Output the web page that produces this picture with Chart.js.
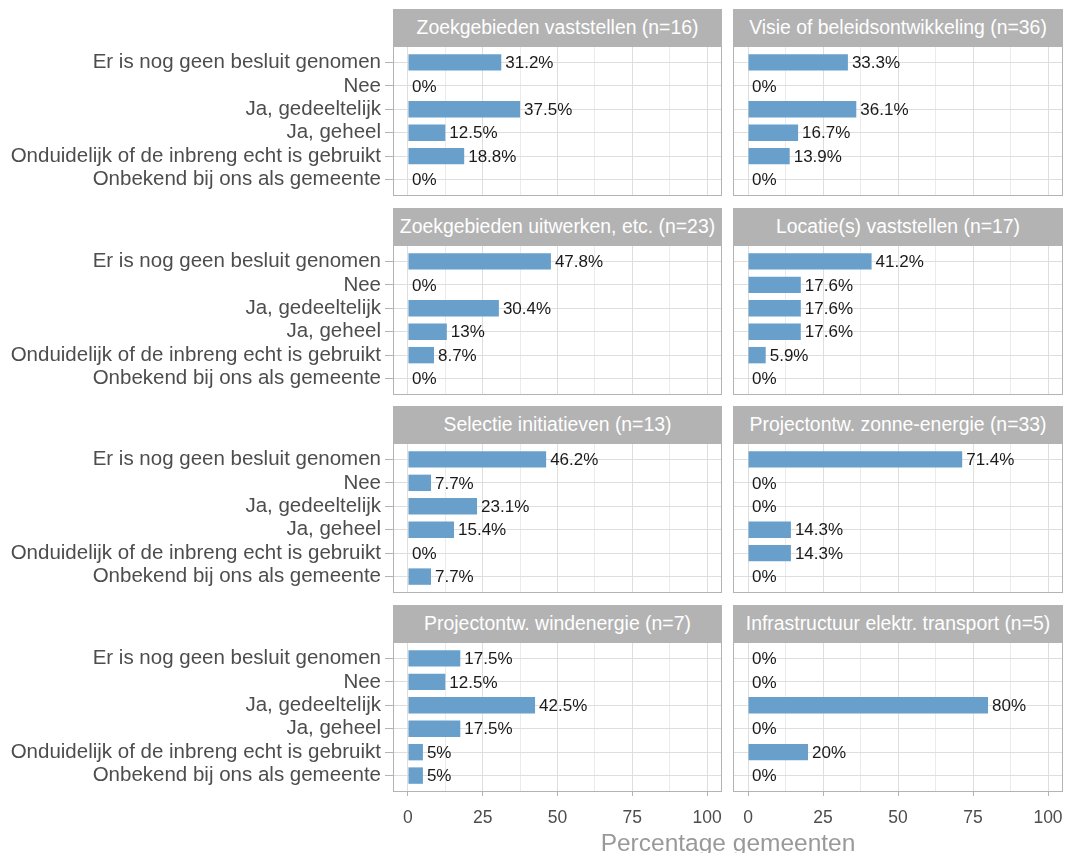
<!DOCTYPE html>
<html>
<head>
<meta charset="utf-8">
<title>Percentage gemeenten</title>
<script src="https://cdn.jsdelivr.net/npm/chart.js@4.4.1/dist/chart.umd.min.js"></script>
<style>
  body { margin: 0; background: #fff; width: 1070px; height: 853px; position: relative; overflow: hidden;
         font-family: "Liberation Sans", Arial, sans-serif; }
  canvas, .strip, .xtitle { position: absolute; }
  .strip { background: #b3b3b3; color: #fff; font-size: 19.4px; text-align: center; height: 37px; line-height: 37px; white-space: nowrap; }
  .xtitle { color: #999; font-size: 24.5px; line-height: 28px; text-align: center; }
</style>
</head>
<body>
<script>
// answer categories (top to bottom)
const categories = [
  'Er is nog geen besluit genomen',
  'Nee',
  'Ja, gedeeltelijk',
  'Ja, geheel',
  'Onduidelijk of de inbreng echt is gebruikt',
  'Onbekend bij ons als gemeente'
];

// facet titles
const panelTitles = [
  'Zoekgebieden vaststellen (n=16)',
  'Visie of beleidsontwikkeling (n=36)',
  'Zoekgebieden uitwerken, etc. (n=23)',
  'Locatie(s) vaststellen (n=17)',
  'Selectie initiatieven (n=13)',
  'Projectontw. zonne-energie (n=33)',
  'Projectontw. windenergie (n=7)',
  'Infrastructuur elektr. transport (n=5)'
];

// percentages per facet
const zoekgebiedenVaststellen = [31.2, 0, 37.5, 12.5, 18.8, 0];
const visieBeleid = [33.3, 0, 36.1, 16.7, 13.9, 0];
const zoekgebiedenUitwerken = [47.8, 0, 30.4, 13, 8.7, 0];
const locatieVaststellen = [41.2, 17.6, 17.6, 17.6, 5.9, 0];
const selectieInitiatieven = [46.2, 7.7, 23.1, 15.4, 0, 7.7];
const zonneEnergie = [71.4, 0, 0, 14.3, 14.3, 0];
const windEnergie = [17.5, 12.5, 42.5, 17.5, 5, 5];
const infraTransport = [0, 0, 80, 0, 20, 0];

const panelValues = [zoekgebiedenVaststellen, visieBeleid, zoekgebiedenUitwerken, locatieVaststellen,
  selectieInitiatieven, zonneEnergie, windEnergie, infraTransport];

// x axis: grid every 12.5, labels every 25
const xGrid = [0, 12.5, 25, 37.5, 50, 62.5, 75, 87.5, 100];
const xLabels = [0, 25, 50, 75, 100];

Chart.defaults.font.family = '"Liberation Sans", Arial, sans-serif';

// category axis with ggplot-like 0.6 expansion instead of 0.5
class PaddedCategory extends Chart.CategoryScale {
  configure() {
    super.configure();
    this._startValue -= 0.1;
    this._valueRange += 0.2;
  }
}
PaddedCategory.id = 'paddedCategory';
PaddedCategory.defaults = {};
Chart.register(PaddedCategory);

const panelPlugin = {
  id: 'panelPlugin',
  afterDatasetsDraw(chart) {
    const ctx = chart.ctx;
    const a = chart.chartArea;
    const meta = chart.getDatasetMeta(0);
    const vals = chart.data.datasets[0].data;
    ctx.save();
    ctx.font = '17px "Liberation Sans", Arial, sans-serif';
    ctx.fillStyle = '#1a1a1a';
    ctx.textAlign = 'left';
    ctx.textBaseline = 'middle';
    meta.data.forEach((bar, i) => {
      ctx.fillText(vals[i] + '%', bar.x + 4, bar.y + 1);
    });
    ctx.strokeStyle = '#b3b3b3';
    ctx.lineWidth = 1;
    ctx.strokeRect(a.left + 0.5, a.top + 0.5, a.width - 1, a.height - 1);
    ctx.restore();
  }
};

const columns = [
  { canvasLeft: 0, canvasWidth: 722, axisWidth: 393, stripLeft: 393, stripWidth: 329 },
  { canvasLeft: 720, canvasWidth: 343, axisWidth: 13, stripLeft: 733, stripWidth: 330 }
];
const panelHeight = 150;
const stripHeight = 37;
const xAxisHeight = 45;

panelValues.forEach((values, p) => {
  const row = Math.floor(p / 2);
  const col = columns[p % 2];
  const isLeft = p % 2 === 0;
  const isBottom = row === 3;
  const top = Math.round(46 + 198.7 * row);

  const strip = document.createElement('div');
  strip.className = 'strip';
  strip.style.left = col.stripLeft + 'px';
  strip.style.top = (top - stripHeight) + 'px';
  strip.style.width = col.stripWidth + 'px';
  strip.textContent = panelTitles[p];
  document.body.appendChild(strip);

  const canvas = document.createElement('canvas');
  const h = panelHeight + (isBottom ? xAxisHeight : 0);
  canvas.width = col.canvasWidth;
  canvas.height = h;
  canvas.style.left = col.canvasLeft + 'px';
  canvas.style.top = top + 'px';
  document.body.appendChild(canvas);

  new Chart(canvas, {
    type: 'bar',
    data: {
      labels: categories,
      datasets: [{
        data: values,
        backgroundColor: '#699fcb',
        borderWidth: 0,
        barPercentage: 0.7,
        categoryPercentage: 1
      }]
    },
    options: {
      indexAxis: 'y',
      responsive: false,
      animation: false,
      events: [],
      layout: { padding: 0 },
      plugins: { legend: { display: false }, tooltip: { enabled: false } },
      scales: {
        x: {
          type: 'linear',
          min: -5,
          max: 105,
          afterBuildTicks: (scale) => { scale.ticks = xGrid.map(v => ({ value: v })); },
          afterFit: (scale) => {
            scale.height = isBottom ? xAxisHeight : 0;
            scale.paddingLeft = 0;
            scale.paddingRight = 0;
          },
          border: { display: false },
          grid: {
            color: (c) => (c.tick && c.tick.value % 25 === 0) ? '#dedede' : '#ebebeb',
            lineWidth: 1,
            drawTicks: isBottom,
            tickLength: 4,
            tickColor: (c) => (c.tick && c.tick.value % 25 === 0) ? '#b3b3b3' : 'rgba(0,0,0,0)'
          },
          ticks: {
            display: isBottom,
            autoSkip: false,
            maxRotation: 0,
            padding: 12,
            color: '#4d4d4d',
            font: { size: 17.5 },
            callback: (v) => xLabels.includes(v) ? String(v) : ''
          }
        },
        y: {
          type: 'paddedCategory',
          offset: true,
          afterFit: (scale) => {
            scale.width = col.axisWidth;
            scale.paddingTop = 0;
            scale.paddingBottom = 0;
          },
          border: { display: false },
          grid: {
            offset: false,
            color: '#dedede',
            lineWidth: 1,
            drawTicks: isLeft,
            tickLength: 8,
            tickColor: '#b3b3b3'
          },
          ticks: {
            display: isLeft,
            autoSkip: false,
            padding: 4,
            color: '#4d4d4d',
            font: { size: 20.5 },
            callback: (v) => categories[v]
          }
        }
      }
    },
    plugins: [panelPlugin]
  });
});

const title = document.createElement('div');
title.className = 'xtitle';
title.style.left = '393px';
title.style.width = '670px';
title.style.top = '829px';
title.textContent = 'Percentage gemeenten';
document.body.appendChild(title);
</script>
</body>
</html>
